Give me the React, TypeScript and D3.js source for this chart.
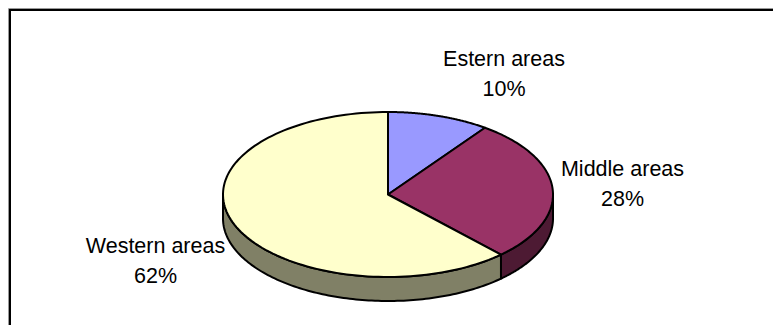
import React from "react";
import * as d3 from "d3";

const categories = ["Estern areas", "Middle areas", "Western areas"];
const shares = [10, 28, 62];
const topColors = ["#9999ff", "#993366", "#ffffcc"];
const sideColors = ["#4d4d80", "#4d1a33", "#808066"];
const labelAnchors: [number, number][] = [[504, 66], [622.5, 176], [155.5, 253]];

const W = 773;
const H = 325;
const cx = 388;
const cy = 194.5;
const rx = 165;
const ry = 82.5;
const depth = 24;

const slices = d3.pie<number>().sort(null)(shares);

const toXY = (a: number, dy = 0): [number, number] => [
  cx + rx * Math.sin(a),
  cy - ry * Math.cos(a) + dy,
];

// Closed outline of a slice's top face, traced along the ellipse.
const topFace = (a0: number, a1: number) => {
  const line = d3.line();
  return line([[cx, cy], ...d3.range(0, 121).map((i) => toXY(a0 + ((a1 - a0) * i) / 120))])! + "Z";
};

// Visible rim below the front half of the ellipse.
const sideWall = (a0: number, a1: number) => {
  const lo = Math.max(a0, Math.PI / 2);
  const hi = Math.min(a1, (3 * Math.PI) / 2);
  if (hi <= lo) return null;
  const angles = d3.range(0, 121).map((i) => lo + ((hi - lo) * i) / 120);
  const pts = [
    ...angles.map((a) => toXY(a)),
    ...angles.slice().reverse().map((a) => toXY(a, depth)),
  ];
  return d3.line()(pts)! + "Z";
};

export default function App() {
  return (
    <svg
      width={W}
      height={H}
      viewBox={`0 0 ${W} ${H}`}
      style={{ position: "absolute", left: 0, top: 0, background: "#fff" }}
      fontFamily="'Liberation Sans', Arial, sans-serif"
    >
      <path d={`M8.5 ${H}V8.5H${W}`} fill="none" stroke="#999" strokeWidth={1} />
      <path d={`M10 ${H}V10H${W}`} fill="none" stroke="#000" strokeWidth={2} />
      {slices.map((s, i) => {
        const d = sideWall(s.startAngle, s.endAngle);
        return d ? <path key={i} d={d} fill={sideColors[i]} stroke="#000" strokeWidth={2} strokeLinejoin="round" /> : null;
      })}
      {slices.map((s, i) => (
        <path key={i} d={topFace(s.startAngle, s.endAngle)} fill={topColors[i]} stroke="#000" strokeWidth={2} strokeLinejoin="round" />
      ))}
      {categories.map((c, i) => (
        <text key={c} textAnchor="middle" fontSize={21.5} fill="#000">
          <tspan x={labelAnchors[i][0]} y={labelAnchors[i][1]}>{c}</tspan>
          <tspan x={labelAnchors[i][0]} y={labelAnchors[i][1] + 30}>{shares[i]}%</tspan>
        </text>
      ))}
    </svg>
  );
}
